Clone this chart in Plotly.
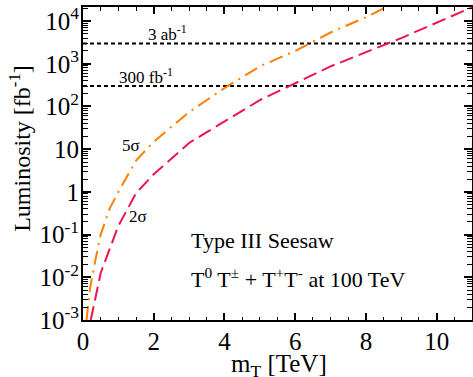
import plotly.graph_objects as go
import numpy as np

# 5 sigma discovery reach (orange, dash-dot)
m_5sigma = [0.1, 0.2, 0.35, 0.5, 0.75, 1.0, 1.5, 2.0, 3.0, 4.0, 5.0, 6.0, 7.0, 8.0, 9.0]
lumi_5sigma = [0.001, 0.0056, 0.025, 0.1, 0.4, 1.0, 5.4, 15, 74, 270, 870, 2000, 5400, 12300, 32000]

# 2 sigma exclusion reach (red, dashed)
m_2sigma = [0.22, 0.5, 1.0, 1.5, 2.0, 3.0, 3.5, 5.0, 7.0, 9.0, 11.0]
lumi_2sigma = [0.001, 0.0126, 0.16, 0.93, 2.6, 14, 25, 141, 870, 4000, 21000]

# reference luminosities
ref_lumi = [300, 3000]
ref_labels = ["300 fb<sup>-1</sup>", "3 ab<sup>-1</sup>"]
ref_label_x = [1.77, 2.4]

x_range = [0, 11]
y_tickvals = [1e-3, 1e-2, 1e-1, 1, 10, 1e2, 1e3, 1e4]
y_ticktext = ["10<sup>-3</sup>", "10<sup>-2</sup>", "10<sup>-1</sup>", "1", "10",
              "10<sup>2</sup>", "10<sup>3</sup>", "10<sup>4</sup>"]

FONT = "Liberation Serif"

fig = go.Figure()
for L in ref_lumi:
    fig.add_trace(go.Scatter(x=x_range, y=[L, L], mode="lines",
                             line=dict(color="black", width=2, dash="4px,3px"),
                             showlegend=False, hoverinfo="skip"))
fig.add_trace(go.Scatter(x=m_5sigma, y=lumi_5sigma, mode="lines",
                         line=dict(color="#FF7F00", width=2, dash="14px,6px,2px,6px"),
                         showlegend=False))
fig.add_trace(go.Scatter(x=m_2sigma, y=lumi_2sigma, mode="lines",
                         line=dict(color="#F0144B", width=2, dash="14px,6px"),
                         showlegend=False))

for L, lab, xl in zip(ref_lumi, ref_labels, ref_label_x):
    fig.add_annotation(x=xl, y=np.log10(L), text=lab, showarrow=False,
                       yanchor="bottom", yshift=-3, font=dict(family=FONT, size=17, color="black"))

fig.add_annotation(x=1.35, y=np.log10(12.5), text="5σ", showarrow=False,
                   font=dict(family=FONT, size=17, color="black"))
fig.add_annotation(x=1.55, y=np.log10(0.27), text="2σ", showarrow=False,
                   font=dict(family=FONT, size=17, color="black"))
fig.add_annotation(x=3.0, y=np.log10(0.074), text="Type III Seesaw", showarrow=False,
                   xanchor="left", font=dict(family=FONT, size=22, color="black"))
fig.add_annotation(x=3.0, y=np.log10(0.0095),
                   text="T<sup>0</sup> T<sup>±</sup> + T<sup>+</sup>T<sup>-</sup> at 100 TeV",
                   showarrow=False, xanchor="left",
                   font=dict(family=FONT, size=22, color="black"))

# axis titles drawn as text placed like the reference
fig.add_annotation(xref="paper", yref="paper", x=-0.162, y=0.55,
                   xanchor="center", yanchor="middle",
                   text="Luminosity [fb<sup>-1</sup>]", textangle=-90, showarrow=False,
                   font=dict(family=FONT, size=24, color="black"))
fig.add_annotation(xref="paper", yref="paper", x=0.505, y=-0.145,
                   xanchor="center", yanchor="middle",
                   text="m<sub>T</sub> [TeV]", showarrow=False,
                   font=dict(family=FONT, size=25, color="black"))

fig.update_layout(
    template="none",
    width=473, height=377,
    margin=dict(l=83, r=1, t=7, b=57, autoexpand=False),
    paper_bgcolor="white", plot_bgcolor="white",
    font=dict(family=FONT, color="black"),
)
fig.update_xaxes(
    range=x_range, showgrid=False, zeroline=False, automargin=False,
    showline=True, linecolor="black", linewidth=2, mirror="allticks",
    ticks="inside", ticklen=7, tickwidth=1.5, tickcolor="black",
    tickvals=[0, 2, 4, 6, 8, 10], tickfont=dict(family=FONT, size=25, color="black"),
    ticklabelstandoff=-2,
    minor=dict(ticks="inside", ticklen=3.5, dtick=0.5, tickcolor="black", tickwidth=1),
)
fig.update_yaxes(
    type="log", range=[-3, 4.33], showgrid=False, zeroline=False, automargin=False,
    showline=True, linecolor="black", linewidth=2, mirror="allticks",
    ticks="inside", ticklen=8, tickwidth=1.5, tickcolor="black",
    tickvals=y_tickvals, ticktext=y_ticktext, tickfont=dict(family=FONT, size=25, color="black"),
    ticklabelstandoff=-3,
    minor=dict(ticks="inside", ticklen=5, dtick="D1", tickcolor="black", tickwidth=1),
)

fig.write_html("out.html", config={"displayModeBar": False},
               post_script="document.body.style.margin='0';document.body.style.padding='0';")
